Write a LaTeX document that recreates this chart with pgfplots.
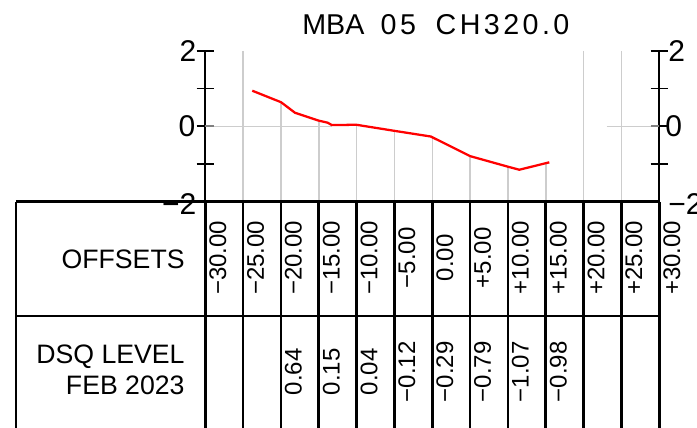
\documentclass[border=0pt]{standalone}
\usepackage{pgfplots}
\pgfplotsset{compat=1.18}
\usepackage{fontspec}
\setmainfont{Liberation Sans}
\newfontfamily\titlefont{Liberation Sans}
\newfontfamily\titlewide[LetterSpace=12]{Liberation Sans}
\definecolor{gridgray}{RGB}{205,205,205}

\tikzset{
  offl/.style={rotate=90, inner sep=0pt, font=\fontsize{18}{20}\selectfont},
  rowl/.style={anchor=base east, inner sep=0pt, font=\fontsize{20}{22}\selectfont},
  tickl/.style={inner sep=0pt, font=\fontsize{22.5}{24}\selectfont},
  tbl/.style={black, line width=2pt},
}

\begin{document}
\begin{tikzpicture}
\begin{axis}[
  scale only axis, width=340.5pt, height=113.25pt,
  xmin=-30, xmax=30, ymin=-2, ymax=2,
  hide axis, clip=false,
]
% grey guide lines: full where no level, else from the level down
\draw[gridgray, line width=1.1pt] (-25,2) -- (-25,-2);
\draw[gridgray, line width=1.1pt] (20,2) -- (20,-2);
\draw[gridgray, line width=1.1pt] (25,2) -- (25,-2);
\draw[gridgray, line width=1.1pt] (-20,0.64) -- (-20,-2);
\draw[gridgray, line width=1.1pt] (-15,0.15) -- (-15,-2);
\draw[gridgray, line width=1.1pt] (-10,0.04) -- (-10,-2);
\draw[gridgray, line width=1.1pt] (-5,-0.12) -- (-5,-2);
\draw[gridgray, line width=1.1pt] (0,-0.28) -- (0,-2);
\draw[gridgray, line width=1.1pt] (5,-0.79) -- (5,-2);
\draw[gridgray, line width=1.1pt] (10,-1.07) -- (10,-2);
\draw[gridgray, line width=1.1pt] (15,-0.98) -- (15,-2);
\draw[gridgray, line width=1.1pt] (-30,0) -- (-13.3,0);
\draw[gridgray, line width=1.1pt] (23.05,0) -- (30,0);

% DSQ level, Feb 2023
\addplot[red, line width=1.7pt, no marks] coordinates {
  (-23.79,0.943) (-20,0.64) (-18.15,0.36) (-15,0.15) (-13.83,0.096)
  (-13.3,0.035) (-10,0.04) (-5,-0.12) (-0.2,-0.27) (5,-0.79)
  (10,-1.07) (11.5,-1.15) (15.46,-0.954)
};

% vertical scales
\draw[black, line width=1.5pt] (-30,2) -- (-30,-2);
\draw[black, line width=1.5pt] (30,2) -- (30,-2);
\draw[black, line width=1.3pt] (-31.15,2) -- (-28.85,2);
\draw[black, line width=1.3pt] (-31.15,1) -- (-28.85,1);
\draw[black, line width=1.3pt] (-31.15,0) -- (-30,0);
\draw[gray, line width=1.3pt] (-30,0) -- (-28.85,0);
\draw[black, line width=1.3pt] (-31.15,-1) -- (-28.85,-1);
\draw[black, line width=1.3pt] (28.85,2) -- (31.15,2);
\draw[black, line width=1.3pt] (28.85,1) -- (31.15,1);
\draw[gray, line width=1.3pt] (28.85,0) -- (30,0);
\draw[black, line width=1.3pt] (30,0) -- (31.15,0);
\draw[black, line width=1.3pt] (28.85,-1) -- (31.15,-1);
\node[tickl, anchor=east] at (-31.15,2) {2};
\node[tickl, anchor=east] at (-31.3,0) {0};
\node[tickl, anchor=east] at (-31.15,-2.05) {−2};
\node[tickl, anchor=west] at (31.15,2) {2};
\node[tickl, anchor=west] at (30.75,0) {0};
\node[tickl, anchor=west] at (31.15,-2.05) {−2};

% title
\node[anchor=base, inner sep=0pt, font=\titlefont\fontsize{21.5}{24}\selectfont] at (-13.08,2.419) {MBA};
\node[anchor=base, inner sep=0pt, font=\titlewide\fontsize{21.5}{24}\selectfont] at (-4.49,2.419) {05};
\node[anchor=base, inner sep=0pt, font=\titlewide\fontsize{21.5}{24}\selectfont] at (9.28,2.419) {CH320.0};

% table
\draw[tbl] (-55.02,-2) -- (30,-2);
\draw[tbl] (-55.02,-5.025) -- (30,-5.025);
\draw[tbl] (-55.02,-2) -- (-55.02,-8.3);
\draw[tbl] (-30,-2) -- (-30,-8.3);
\draw[tbl] (-25,-2) -- (-25,-8.3);
\draw[tbl] (-20,-2) -- (-20,-8.3);
\draw[tbl] (-15,-2) -- (-15,-8.3);
\draw[tbl] (-10,-2) -- (-10,-8.3);
\draw[tbl] (-5,-2) -- (-5,-8.3);
\draw[tbl] (0,-2) -- (0,-8.3);
\draw[tbl] (5,-2) -- (5,-8.3);
\draw[tbl] (10,-2) -- (10,-8.3);
\draw[tbl] (15,-2) -- (15,-8.3);
\draw[tbl] (20,-2) -- (20,-8.3);
\draw[tbl] (25,-2) -- (25,-8.3);
\draw[tbl] (30,-2) -- (30,-8.3);

\node[rowl] at (-32.7,-3.762) {OFFSETS};
\node[rowl] at (-32.7,-6.278) {DSQ LEVEL};
\node[rowl] at (-32.7,-7.099) {FEB 2023};

\node[offl] at (-28.35,-3.48) {−30.00};
\node[offl] at (-23.35,-3.48) {−25.00};
\node[offl] at (-18.35,-3.48) {−20.00};
\node[offl] at (-13.35,-3.48) {−15.00};
\node[offl] at (-8.35,-3.48) {−10.00};
\node[offl] at (-3.35,-3.48) {−5.00};
\node[offl] at (1.65,-3.48) {0.00};
\node[offl] at (6.65,-3.48) {+5.00};
\node[offl] at (11.65,-3.48) {+10.00};
\node[offl] at (16.65,-3.48) {+15.00};
\node[offl] at (21.65,-3.48) {+20.00};
\node[offl] at (26.65,-3.48) {+25.00};
\node[offl] at (31.65,-3.48) {+30.00};

\node[offl] at (-18.35,-6.5) {0.64};
\node[offl] at (-13.35,-6.5) {0.15};
\node[offl] at (-8.35,-6.5) {0.04};
\node[offl] at (-3.35,-6.5) {−0.12};
\node[offl] at (1.65,-6.5) {−0.29};
\node[offl] at (6.65,-6.5) {−0.79};
\node[offl] at (11.65,-6.5) {−1.07};
\node[offl] at (16.65,-6.5) {−0.98};

\coordinate (bbl) at (axis cs:-57.13,-7.966);
\coordinate (btr) at (axis cs:34.98,3.346);
\end{axis}
\pgfresetboundingbox
\useasboundingbox (bbl) rectangle (btr);
\end{tikzpicture}
\end{document}
